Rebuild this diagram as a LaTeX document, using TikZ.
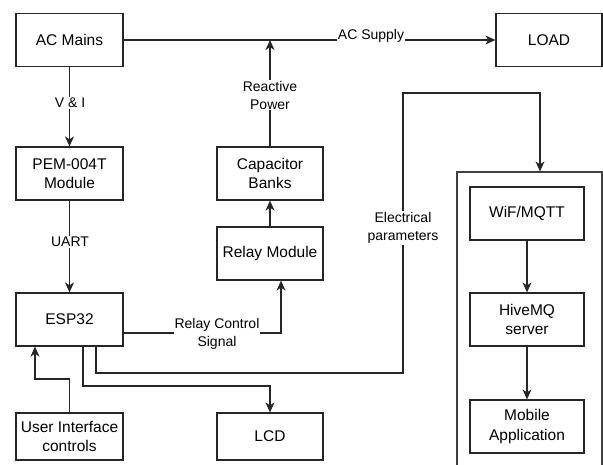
\documentclass[tikz,border=0pt]{standalone}
\usepackage{fontspec}
\setmainfont{Liberation Sans}
\usetikzlibrary{arrows.meta}
\begin{document}
\begin{tikzpicture}[x=1pt,y=-1pt,
  blk/.style={draw=black!85, line width=1.25pt, minimum width=107pt, minimum height=53pt, align=center, inner sep=1pt, font=\fontsize{15.5}{19.5}\selectfont},
  lbl/.style={fill=white, inner sep=1pt, align=center, font=\fontsize{14}{18}\selectfont},
  con/.style={draw=black!85, line width=1.25pt},
  arr/.style={con, -{Stealth[length=10pt,width=9pt,inset=3pt]}}]
\useasboundingbox (0,0) rectangle (603,464);
\clip (0,0) rectangle (603,464);
\fill[white] (0,0) rectangle (603,464);
% nodes
\node[blk] (ac) at (69.5,40) {AC Mains};
\node[blk, minimum width=106pt] (load) at (549,40) {LOAD};
\node[blk] (pem) at (69.5,173.5) {PEM-004T\\Module};
\node[blk, minimum width=106pt] (cap) at (270,173.5) {Capacitor\\Banks};
\node[blk, minimum width=106pt] (relay) at (270,253.5) {Relay Module};
\node[blk] (esp) at (69.5,319.5) {ESP32};
\node[blk, minimum height=47pt] (ui) at (69.5,436.5) {User Interface\\controls};
\node[blk, minimum width=106pt, minimum height=47pt] (lcd) at (270,436.5) {LCD};
\node[draw=black!75, line width=1.25pt, minimum width=145pt, minimum height=340pt, inner sep=0pt] (big) at (529.5,342) {};
\node[blk, minimum width=114pt] (wifi) at (527,213.5) {WiF/MQTT};
\node[blk, minimum width=114pt] (hive) at (527,319.5) {HiveMQ\\server};
\node[blk, minimum width=114pt] (mob) at (527,426.5) {Mobile\\Application};
% coordinates
\coordinate (rp) at (270,40);
\coordinate (rc) at (281,333);
\coordinate (e0) at (96,373);
\coordinate (e1) at (403,373);
\coordinate (e2) at (403,93);
\coordinate (e3) at (540,93);
\coordinate (l0) at (83,386);
\coordinate (l1) at (270,386);
\coordinate (u0) at (69.5,379);
\coordinate (u1) at (35,379);
% connectors
\draw[arr] (ac) -- (load);
\draw[arr] (cap) -- (rp);
\draw[arr] (ac) -- (pem);
\draw[arr] (pem) -- (esp);
\draw[arr] (relay) -- (cap);
\draw[arr] (esp.east |- rc) -- (rc) -- (rc |- relay.south);
\draw[arr] (e0 |- esp.south) -- (e0) -- (e1) -- (e2) -- (e3) -- (e3 |- big.north);
\draw[arr] (l0 |- esp.south) -- (l0) -- (l1) -- (lcd);
\draw[arr] (ui) -- (u0) -- (u1) -- (u1 |- esp.south);
\draw[arr] (wifi) -- (hive);
\draw[arr] (hive) -- (mob);
% labels
\node[lbl] (tac) at (371,36) {AC Supply};
\node[lbl] (trp) at (270,95) {Reactive\\Power};
\node[lbl] (tvi) at (70,103) {V \& I};
\node[lbl] (tua) at (70,242) {UART};
\node[lbl] (trc) at (217,334) {Relay Control\\Signal};
\node[lbl] (tel) at (403,228) {Electrical\\parameters};
\end{tikzpicture}
\end{document}
